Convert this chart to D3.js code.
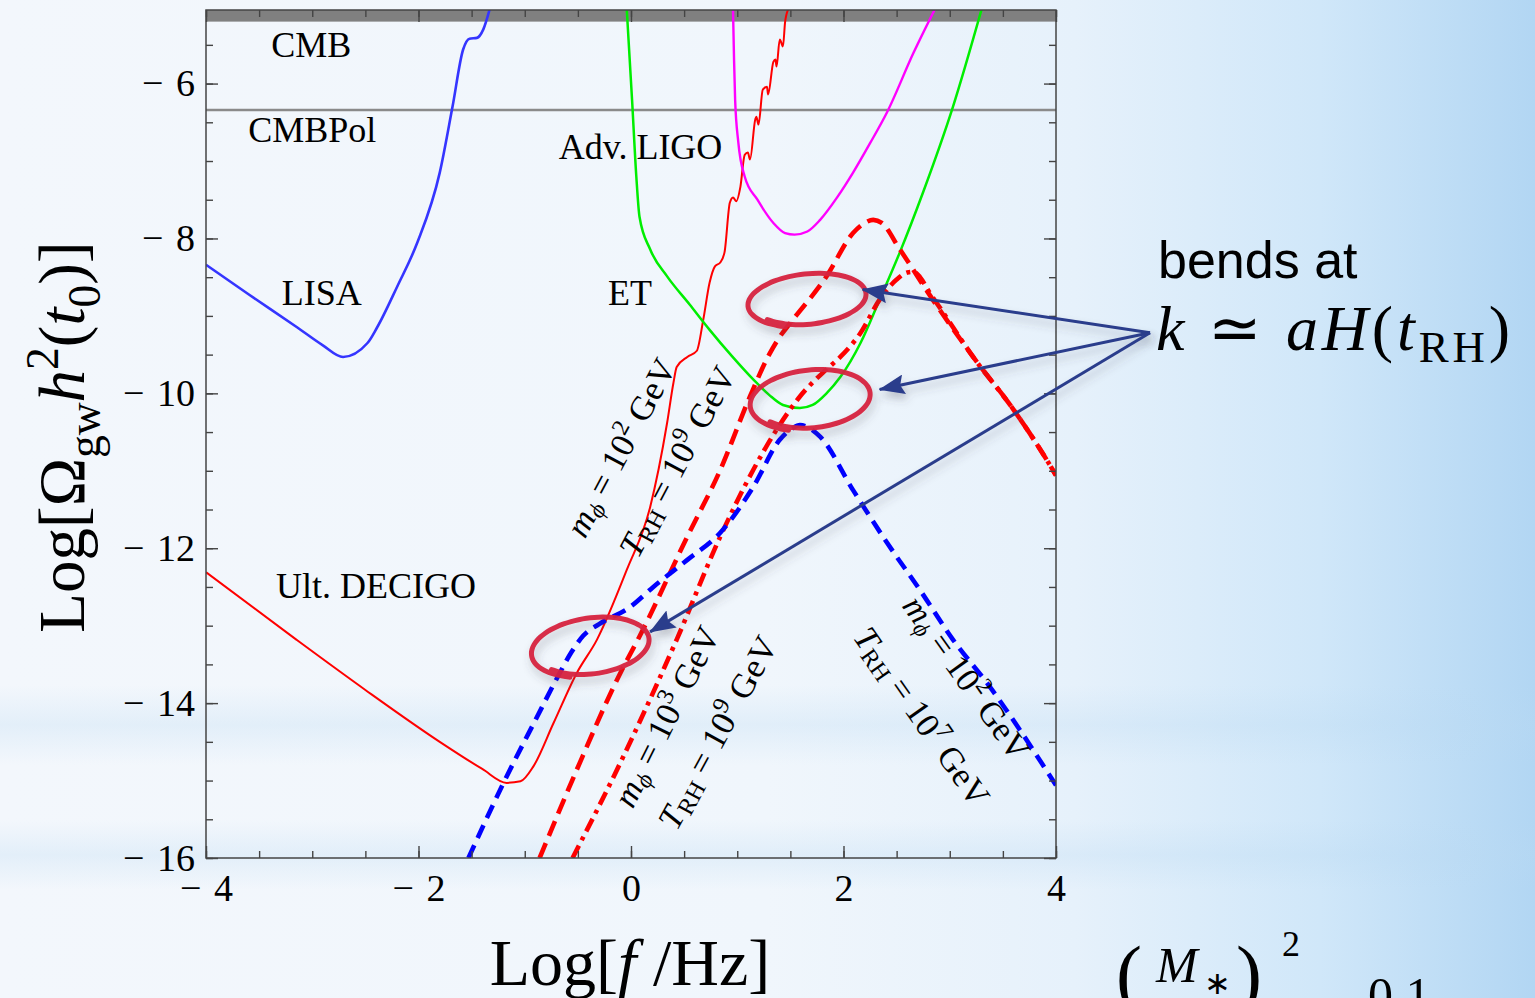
<!DOCTYPE html>
<html>
<head>
<meta charset="utf-8">
<script src="https://cdn.jsdelivr.net/npm/d3@7"></script>
<style>
  html, body { margin: 0; padding: 0; overflow: hidden; background: #f3f7fc; }
  svg { display: block; }
  text { white-space: pre; }
</style>
</head>
<body>
<svg id="chart" width="1535" height="998"></svg>
<script>
// ---- data: Log[f/Hz] vs Log[Omega_gw h^2(t0)] ----
const xTicks = [-4, -2, 0, 2, 4];
const yTicks = [-16, -14, -12, -10, -8, -6];

// sensitivity curves
const lisaX = [-4, -3.6, -3.14, -2.9, -2.71, -2.48, -2.39, -2.2, -2.01, -1.8, -1.68, -1.58, -1.52, -1.45, -1.39, -1.33];
const lisaY = [-8.34, -8.72, -9.15, -9.38, -9.53, -9.35, -9.15, -8.62, -8.05, -7.15, -6.30, -5.56, -5.42, -5.41, -5.30, -5.04];

const decigoX = [-4, -3.15, -2.5, -1.8, -1.4, -1.17, -1.04, -0.92, -0.73, -0.51, -0.32, -0.04, 0.18, 0.34, 0.40, 0.43, 0.53, 0.62, 0.68, 0.74, 0.79, 0.84, 0.88, 0.93, 0.96, 0.99, 1.03, 1.07, 1.10, 1.12, 1.17, 1.18, 1.20, 1.24, 1.28, 1.29, 1.34, 1.36, 1.37, 1.40, 1.43, 1.45, 1.48];
const decigoY = [-12.31, -13.18, -13.83, -14.5, -14.85, -15.03, -15.01, -14.82, -14.26, -13.61, -13.18, -12.28, -11.47, -10.38, -9.86, -9.66, -9.53, -9.45, -9.05, -8.57, -8.36, -8.31, -8.18, -7.54, -7.47, -7.52, -7.33, -6.92, -6.89, -6.98, -6.46, -6.43, -6.53, -6.08, -6.04, -6.14, -5.72, -5.69, -5.78, -5.43, -5.52, -5.21, -5.04];

const ligoX = [0.96, 0.97, 0.98, 1.01, 1.07, 1.19, 1.34, 1.45, 1.54, 1.66, 1.78, 1.94, 2.09, 2.25, 2.41, 2.66, 2.86];
const ligoY = [-5.04, -5.7, -6.21, -6.76, -7.20, -7.50, -7.80, -7.93, -7.95, -7.91, -7.76, -7.47, -7.15, -6.77, -6.37, -5.60, -5.04];

const etX = [-0.04, 0.01, 0.05, 0.08, 0.18, 0.34, 0.55, 0.74, 0.95, 1.15, 1.30, 1.43, 1.59, 1.71, 1.84, 1.97, 2.16, 2.34, 2.53, 2.75, 3.03, 3.30];
const etY = [-5.04, -6.21, -7.2, -7.72, -8.14, -8.49, -8.85, -9.18, -9.52, -9.82, -10.02, -10.15, -10.19, -10.15, -10.0, -9.79, -9.35, -8.79, -8.18, -7.40, -6.30, -5.04];

const cmbBound = -5.2;
const cmbPolBound = -6.34;

// predicted spectra
const blueX = [-1.53, -1.20, -0.90, -0.67, -0.56, -0.45, -0.30, -0.01, 0.21, 0.53, 0.84, 1.15, 1.40, 1.52, 1.59, 1.78, 2.09, 2.41, 2.72, 3.03, 3.35, 4.0];
const blueY = [-16, -15.03, -14.22, -13.61, -13.34, -13.13, -12.98, -12.76, -12.50, -12.15, -11.80, -11.21, -10.60, -10.45, -10.41, -10.56, -11.25, -11.93, -12.54, -13.18, -13.74, -15.06];

const redDashX = [-0.86, -0.51, -0.10, 0.08, 0.53, 0.84, 1.12, 1.30, 1.40, 1.50, 1.84, 2.09, 2.20, 2.28, 2.36, 2.53, 2.84, 3.22, 3.60, 3.97, 4.0];
const redDashY = [-16, -14.86, -13.61, -13.14, -11.85, -10.99, -10.04, -9.50, -9.27, -9.09, -8.49, -7.93, -7.80, -7.76, -7.80, -8.14, -8.79, -9.53, -10.21, -10.99, -11.06];

const redDotX = [-0.55, -0.10, 0.43, 0.84, 1.15, 1.37, 1.59, 1.84, 1.97, 2.16, 2.34, 2.50, 2.60, 2.66, 2.72, 2.81, 2.91, 3.22, 3.60, 3.97, 4.0];
const redDotY = [-16, -14.77, -13.18, -11.85, -10.99, -10.47, -10.04, -9.69, -9.53, -9.22, -8.79, -8.53, -8.44, -8.43, -8.50, -8.70, -8.90, -9.53, -10.21, -10.99, -11.06];

// annotation anchors (data coords)
const rings = [
  { x: 1.67, y: -8.79, rx: 62, ry: 27, tilt: -6 },
  { x: 1.70, y: -10.08, rx: 63, ry: 31, tilt: -6 },
  { x: -0.37, y: -13.27, rx: 62, ry: 30, tilt: -8 }
];
const bendFrom = [4.885, -9.217];
const bendTo = [[2.18, -8.66], [2.34, -9.95], [0.18, -13.08]];

const svg = d3.select('#chart');
const W = 1535, H = 998;

const x = d3.scaleLinear().domain([-4, 4]).range([206, 1056]);
const y = d3.scaleLinear().domain([-16, -5.05]).range([858, 10]);

const SERIF = '"Liberation Serif", "Times New Roman", serif';
const SANS = '"Liberation Sans", Arial, sans-serif';

/* background */
const defs = svg.append('defs');
const bg = defs.append('linearGradient').attr('id', 'bg').attr('x1', 0).attr('x2', 1).attr('y1', 0).attr('y2', 0);
[[0, '#f3f7fc'], [0.5, '#f0f6fc'], [0.7, '#e6f1fb'], [0.86, '#d0e7f9'], [1, '#b2d6f3']]
  .forEach(s => bg.append('stop').attr('offset', s[0]).attr('stop-color', s[1]));
const band = defs.append('linearGradient').attr('id', 'band').attr('x1', 0).attr('x2', 0).attr('y1', 0).attr('y2', 1);
[[0, 0], [0.5, 0.28], [1, 0]]
  .forEach(s => band.append('stop').attr('offset', s[0]).attr('stop-color', '#b9d9f2').attr('stop-opacity', s[1]));

const shadow = defs.append('filter').attr('id', 'shadow').attr('x', '-20%').attr('y', '-20%').attr('width', '140%').attr('height', '160%');
shadow.append('feDropShadow').attr('dx', 2).attr('dy', 6).attr('stdDeviation', 4)
  .attr('flood-color', '#445').attr('flood-opacity', 0.3);

defs.append('clipPath').attr('id', 'plot')
  .append('rect')
  .attr('x', x(-4)).attr('y', y(-5.05))
  .attr('width', x(4) - x(-4)).attr('height', y(-16) - y(-5.05));

svg.append('rect').attr('width', W).attr('height', H).attr('fill', 'url(#bg)');
svg.append('rect').attr('x', 0).attr('y', 685).attr('width', W).attr('height', 80).attr('fill', 'url(#band)');
svg.append('rect').attr('x', 0).attr('y', 820).attr('width', W).attr('height', 70).attr('fill', 'url(#band)');

/* experiment bounds */
const plot = svg.append('g').attr('clip-path', 'url(#plot)');

plot.append('rect')
  .attr('x', x(-4)).attr('y', y(-5.05))
  .attr('width', x(4) - x(-4)).attr('height', y(cmbBound) - y(-5.05))
  .attr('fill', '#808080');

plot.append('line')
  .attr('x1', x(-4)).attr('x2', x(4))
  .attr('y1', y(cmbPolBound)).attr('y2', y(cmbPolBound))
  .attr('stroke', '#8a8a8a').attr('stroke-width', 2.5);

const line = d3.line()
  .x(d => x(d[0]))
  .y(d => y(d[1]))
  .curve(d3.curveMonotoneX);

function drawCurve(xs, ys, color, width, dash){
  plot.append('path')
    .datum(d3.zip(xs, ys))
    .attr('d', line)
    .attr('fill', 'none')
    .attr('stroke', color)
    .attr('stroke-width', width)
    .attr('stroke-dasharray', dash || null)
    .attr('stroke-linejoin', 'round');
}

drawCurve(lisaX, lisaY, '#3535ff', 2.6);
drawCurve(decigoX, decigoY, '#ff0000', 2);
drawCurve(ligoX, ligoY, '#ff00ff', 2.4);
drawCurve(etX, etY, '#00ee00', 2.5);

drawCurve(redDotX, redDotY, '#ff0000', 4.6, '14,6,4,6');
drawCurve(redDashX, redDashY, '#ff0000', 4.6, '16,8');
drawCurve(blueX, blueY, '#0000ff', 4.6, '14,8');

/* frame + ticks */
const frame = svg.append('g');
const tickFmt = d => d < 0 ? '\u2212\u2004' + Math.abs(d) : String(d);
const minorX = d3.range(-4, 4.01, 0.5);
const minorY = d3.range(-16, -5.2, 0.5);

function axis(gen, scale, major, minor, tr, labels){
  const g = frame.append('g').attr('transform', tr);
  g.call(gen(scale).tickValues(minor).tickSizeInner(-7).tickSizeOuter(0).tickFormat(''));
  const m = frame.append('g').attr('transform', tr);
  m.call(gen(scale).tickValues(major).tickSizeInner(-12).tickSizeOuter(0)
    .tickPadding(labels ? (gen === d3.axisBottom ? 16 : 11) : 0)
    .tickFormat(labels ? tickFmt : ''));
  [g, m].forEach(s => {
    s.select('.domain').remove();
    s.selectAll('line').attr('stroke', '#444').attr('stroke-width', 1.4);
    s.selectAll('text')
      .attr('fill', '#000')
      .attr('font-family', SERIF)
      .attr('font-size', 38);
  });
}

axis(d3.axisBottom, x, xTicks, minorX, `translate(0,${y(-16)})`, true);
axis(d3.axisTop, x, xTicks, minorX, `translate(0,${y(-5.05)})`, false);
axis(d3.axisLeft, y, yTicks, minorY, `translate(${x(-4)},0)`, true);
axis(d3.axisRight, y, yTicks, minorY, `translate(${x(4)},0)`, false);

frame.append('rect')
  .attr('x', x(-4)).attr('y', y(-5.05))
  .attr('width', x(4) - x(-4)).attr('height', y(-16) - y(-5.05))
  .attr('fill', 'none').attr('stroke', '#444').attr('stroke-width', 1.5);

/* rich text helper: parts with sub / sup / italic */
function rich(t, parts, fs, subShift){
  let off = 0;
  const sb = subShift === undefined ? 0.24 : subShift;
  parts.forEach(p => {
    const shift = p.sub ? sb * fs : p.sup ? -0.4 * fs : 0;
    t.append('tspan')
      .attr('dy', shift - off)
      .attr('font-size', p.sub || p.sup ? fs * 0.7 : fs)
      .attr('font-style', p.it ? 'italic' : null)
      .text(p.t);
    off = shift;
  });
  return t;
}

/* experiment labels */
const expLabels = [
  { t: 'CMB', x: -3.01, y: -5.66 },
  { t: 'CMBPol', x: -3.0, y: -6.76 },
  { t: 'Adv. LIGO', x: 0.09, y: -6.98 },
  { t: 'LISA', x: -2.91, y: -8.86 },
  { t: 'ET', x: -0.01, y: -8.86 },
  { t: 'Ult. DECIGO', x: -2.4, y: -12.64 }
];

svg.append('g').selectAll('text')
  .data(expLabels)
  .enter().append('text')
  .attr('x', d => x(d.x))
  .attr('y', d => y(d.y))
  .attr('text-anchor', 'middle')
  .attr('font-family', SERIF)
  .attr('font-size', 36)
  .text(d => d.t);

/* curve labels */
const mphi = e => [{ t: 'm', it: true }, { t: '\u03d5', it: true, sub: true }, { t: ' = 10' }, { t: e, sup: true }, { t: ' GeV' }];
const trh = e => [{ t: 'T', it: true }, { t: 'RH', sub: true }, { t: ' = 10' }, { t: e, sup: true }, { t: ' GeV' }];

const curveLabels = [
  { x: 0.0, y: -10.77, a: -62, len: 196, parts: mphi('2') },
  { x: 0.53, y: -10.95, a: -62, len: 210, parts: trh('9') },
  { x: 0.43, y: -14.24, a: -63.5, len: 197, parts: mphi('3') },
  { x: 0.91, y: -14.45, a: -61.5, len: 214, parts: trh('9') },
  { x: 3.07, y: -13.76, a: 54.5, len: 193, parts: mphi('2') },
  { x: 2.65, y: -14.26, a: 55, len: 210, parts: trh('7') }
];

curveLabels.forEach(d => {
  const t = svg.append('text')
    .attr('transform', `translate(${x(d.x)},${y(d.y)}) rotate(${d.a})`)
    .attr('text-anchor', 'middle')
    .attr('dy', '0.35em')
    .attr('font-family', SERIF)
    .attr('font-size', 34)
    .attr('textLength', d.len)
    .attr('lengthAdjust', 'spacingAndGlyphs');
  rich(t, d.parts, 34, 0.14);
});

/* hand drawn rings */
const ringLine = d3.line().curve(d3.curveBasis);
rings.forEach(r => {
  const cx = x(r.x), cy = y(r.y);
  const a = r.tilt * Math.PI / 180;
  const pts = d3.range(0, 1.001, 0.02).map(s => {
    const t = 2.0 + s * (2 * Math.PI + 0.45);
    const k = 1 - 0.1 * s;
    const px = r.rx * k * Math.cos(t), py = r.ry * k * Math.sin(t);
    return [cx + px * Math.cos(a) - py * Math.sin(a), cy + px * Math.sin(a) + py * Math.cos(a)];
  });
  svg.append('path')
    .attr('d', ringLine(pts))
    .attr('fill', 'none')
    .attr('stroke', '#d6243f')
    .attr('stroke-opacity', 0.95)
    .attr('stroke-width', 5)
    .attr('stroke-linecap', 'round')
    .attr('filter', 'url(#shadow)');
});

/* arrows */
defs.append('marker')
  .attr('id', 'head')
  .attr('markerUnits', 'userSpaceOnUse')
  .attr('markerWidth', 26).attr('markerHeight', 20)
  .attr('refX', 25).attr('refY', 10)
  .attr('orient', 'auto')
  .append('path')
  .attr('d', 'M0,0 L26,10 L0,20 L4,10 Z')
  .attr('fill', '#2b3d8c');

bendTo.forEach(p => {
  svg.append('line')
    .attr('x1', x(bendFrom[0])).attr('y1', y(bendFrom[1]))
    .attr('x2', x(p[0])).attr('y2', y(p[1]))
    .attr('stroke', '#2b3d8c')
    .attr('stroke-width', 3)
    .attr('marker-end', 'url(#head)')
    .attr('filter', 'url(#shadow)');
});

/* side notes */
svg.append('text')
  .attr('x', 1158).attr('y', 278)
  .attr('font-family', SANS)
  .attr('font-size', 52)
  .text('bends at');

rich(svg.append('text')
  .attr('x', 1156).attr('y', 350)
  .attr('font-family', SERIF)
  .attr('font-size', 64)
  .attr('textLength', 354)
  .attr('lengthAdjust', 'spacing'),
  [{ t: 'k', it: true }, { t: ' \u2243 ' }, { t: 'aH', it: true }, { t: '(' }, { t: 't', it: true }, { t: 'RH', sub: true }, { t: ')' }], 64, 0.18);

/* axis titles */
rich(svg.append('text')
  .attr('x', 630).attr('y', 985)
  .attr('text-anchor', 'middle')
  .attr('font-family', SERIF)
  .attr('font-size', 66),
  [{ t: 'Log[' }, { t: 'f', it: true }, { t: ' /Hz]' }], 66);

rich(svg.append('text')
  .attr('transform', 'translate(84,437) rotate(-90)')
  .attr('text-anchor', 'middle')
  .attr('font-family', SERIF)
  .attr('font-size', 65),
  [{ t: 'Log[\u03a9' }, { t: 'gw', sub: true }, { t: 'h', it: true }, { t: '2', sup: true }, { t: '(' }, { t: 't', it: true }, { t: '0', sub: true }, { t: ')]' }], 65);

/* partly cut-off formula at the bottom of the slide */
const foot = svg.append('g').attr('font-family', SERIF);
foot.append('text').attr('x', 1116).attr('y', 1000).attr('font-size', 78).text('(');
foot.append('text').attr('x', 1156).attr('y', 982).attr('font-size', 50).attr('font-style', 'italic').text('M');
foot.append('text').attr('x', 1204).attr('y', 994).attr('font-size', 32).text('\u2217');
foot.append('text').attr('x', 1236).attr('y', 1000).attr('font-size', 78).text(')');
foot.append('text').attr('x', 1282).attr('y', 956).attr('font-size', 36).text('2');
foot.append('text').attr('x', 1368).attr('y', 1012).attr('font-size', 50).text('0.1');
</script>
</body>
</html>
